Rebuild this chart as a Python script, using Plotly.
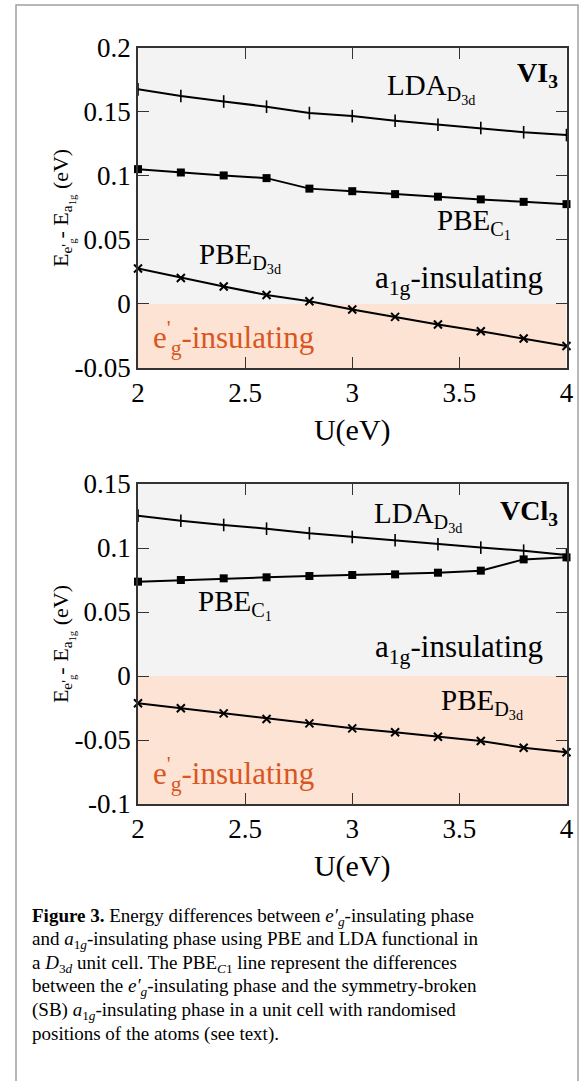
import plotly.graph_objects as go

# ---------------- data ----------------
U = [2.0, 2.2, 2.4, 2.6, 2.8, 3.0, 3.2, 3.4, 3.6, 3.8, 4.0]

vi3_lda_d3d = [0.1675, 0.1623, 0.1580, 0.1540, 0.1490, 0.1466, 0.1430, 0.1399, 0.1373, 0.1340, 0.1318]
vi3_pbe_c1 = [0.1052, 0.1026, 0.1003, 0.0982, 0.0900, 0.0880, 0.0857, 0.0837, 0.0816, 0.0797, 0.0779]
vi3_pbe_d3d = [0.0276, 0.0203, 0.0136, 0.0070, 0.0021, -0.0043, -0.0101, -0.0161, -0.0213, -0.0270, -0.0328]

vcl3_lda_d3d = [0.1253, 0.1213, 0.1180, 0.1151, 0.1115, 0.1086, 0.1060, 0.1029, 0.1003, 0.0979, 0.0945]
vcl3_pbe_c1 = [0.0737, 0.0750, 0.0763, 0.0771, 0.0781, 0.0789, 0.0794, 0.0807, 0.0823, 0.0911, 0.0927]
vcl3_pbe_d3d = [-0.0213, -0.0252, -0.0292, -0.0336, -0.0370, -0.0409, -0.0440, -0.0474, -0.0508, -0.0560, -0.0596]

x_tickvals = [2, 2.5, 3, 3.5, 4]
x_ticktext = ["2", "2.5", "3", "3.5", "4"]
vi3_tickvals = [-0.05, 0, 0.05, 0.1, 0.15, 0.2]
vi3_ticktext = ["-0.05", "0", "0.05", "0.1", "0.15", "0.2"]
vcl3_tickvals = [-0.1, -0.05, 0, 0.05, 0.1, 0.15]
vcl3_ticktext = ["-0.1", "-0.05", "0", "0.05", "0.1", "0.15"]

caption_lines = [
    "<b>Figure 3.</b> Energy differences between <i>e′<sub>g</sub></i>-insulating phase",
    "and <i>a</i><sub>1<i>g</i></sub>-insulating phase using PBE and LDA functional in",
    "a <i>D</i><sub>3<i>d</i></sub> unit cell. The PBE<sub><i>C</i>1</sub> line represent the differences",
    "between the <i>e′<sub>g</sub></i>-insulating phase and the symmetry-broken",
    "(SB) <i>a</i><sub>1<i>g</i></sub>-insulating phase in a unit cell with randomised",
    "positions of the atoms (see text).",
]

# ---------------- geometry ----------------
W, H = 584, 1081
SERIF = "Liberation Serif"
AX = "#333333"
GREY_BG = "#f3f3f3"
PEACH = "#fde3d3"
ORANGE = "#d9561f"

def px_x(p):
    return p / W

def px_y(p):
    return 1 - p / H

xdom = [px_x(138), px_x(566.5)]
ydom1 = [px_y(368), px_y(47.7)]
ydom2 = [px_y(804), px_y(484)]

fig = go.Figure()

def add_series(xa, ya, lda, c1, d3d):
    fig.add_trace(go.Scatter(x=U, y=lda, mode="lines+markers", xaxis=xa, yaxis=ya, cliponaxis=False,
                             line=dict(color="black", width=2),
                             marker=dict(symbol="line-ns", size=9, color="black",
                                         line=dict(width=1.6, color="black")),
                             showlegend=False))
    fig.add_trace(go.Scatter(x=U, y=c1, mode="lines+markers", xaxis=xa, yaxis=ya, cliponaxis=False,
                             line=dict(color="black", width=2),
                             marker=dict(symbol="square", size=8, color="black"),
                             showlegend=False))
    fig.add_trace(go.Scatter(x=U, y=d3d, mode="lines+markers", xaxis=xa, yaxis=ya, cliponaxis=False,
                             line=dict(color="black", width=2),
                             marker=dict(symbol="x-thin", size=8, color="black",
                                         line=dict(width=2, color="black")),
                             showlegend=False))

add_series("x", "y", vi3_lda_d3d, vi3_pbe_c1, vi3_pbe_d3d)
add_series("x2", "y2", vcl3_lda_d3d, vcl3_pbe_c1, vcl3_pbe_d3d)

tickfont = dict(family=SERIF, size=27, color="black")

def xaxis_cfg(anchor):
    return dict(domain=xdom, anchor=anchor, range=[2, 4], tickvals=x_tickvals, ticktext=x_ticktext,
                ticks="inside", ticklen=11, tickwidth=1.3, tickcolor=AX,
                showline=True, linecolor=AX, linewidth=1.6, mirror="ticks",
                showgrid=False, zeroline=False, tickfont=tickfont, automargin=False,
                ticklabeloverflow="allow",
                title=dict(text="U(eV)", font=dict(family=SERIF, size=30, color="black"), standoff=12))

def yaxis_cfg(anchor, dom, rng, tv, tt):
    return dict(domain=dom, anchor=anchor, range=rng, tickvals=tv, ticktext=tt,
                ticks="inside", ticklen=11, tickwidth=1.3, tickcolor=AX,
                showline=True, linecolor=AX, linewidth=1.6, mirror="ticks",
                showgrid=False, zeroline=False, tickfont=tickfont, automargin=False,
                ticklabeloverflow="allow",
                title=dict(text="E<sub>e'<sub>g</sub></sub>- E<sub>a<sub>1g</sub></sub> (eV)",
                           font=dict(family=SERIF, size=22, color="black"), standoff=0))

fig.update_layout(
    width=W, height=H, margin=dict(l=0, r=0, t=0, b=0),
    paper_bgcolor="white", plot_bgcolor=GREY_BG, template="none",
    xaxis=xaxis_cfg("y"),
    yaxis=yaxis_cfg("x", ydom1, [-0.05, 0.2], vi3_tickvals, vi3_ticktext),
    xaxis2=xaxis_cfg("y2"),
    yaxis2=yaxis_cfg("x2", ydom2, [-0.1, 0.15], vcl3_tickvals, vcl3_ticktext),
)

shapes = [
    dict(type="rect", xref="x", yref="y", x0=2, x1=4, y0=-0.05, y1=0,
         fillcolor=PEACH, line=dict(width=0), layer="below"),
    dict(type="rect", xref="x2", yref="y2", x0=2, x1=4, y0=-0.1, y1=0,
         fillcolor=PEACH, line=dict(width=0), layer="below"),
    dict(type="rect", xref="paper", yref="paper", x0=px_x(16), x1=px_x(578),
         y0=px_y(5), y1=-0.05, line=dict(color="#a0a0a0", width=1.5), fillcolor="rgba(0,0,0,0)"),
]
fig.update_layout(shapes=shapes)

lab = dict(family=SERIF, size=29, color="black")
ins = dict(family=SERIF, size=31, color="black")
org = dict(family=SERIF, size=31, color=ORANGE)
bold = dict(family=SERIF, size=28, color="black")
ann = []

def A(text, x, y, xr, yr, font, xanchor="left"):
    ann.append(dict(text=text, x=x, y=y, xref=xr, yref=yr, xanchor=xanchor, yanchor="middle",
                    showarrow=False, font=font))

# top panel (VI3)
A("<b>VI<sub>3</sub></b>", 3.97, 0.1787, "x", "y", bold, "right")
A("LDA<sub>D<sub>3d</sub></sub>", 3.155, 0.1680, "x", "y", lab)
A("PBE<sub>C<sub>1</sub></sub>", 3.386, 0.0631, "x", "y", lab)
A("a<sub>1g</sub>-insulating", 3.095, 0.0185, "x", "y", ins)
A("PBE<sub>D<sub>3d</sub></sub>", 2.275, 0.0366, "x", "y", lab)
A("e<sup>'</sup><sub>g</sub>-insulating", 2.060, -0.0268, "x", "y", org)

# bottom panel (VCl3)
A("<b>VCl<sub>3</sub></b>", 3.97, 0.128, "x2", "y2", bold, "right")
A("LDA<sub>D<sub>3d</sub></sub>", 3.090, 0.1244, "x2", "y2", lab)
A("PBE<sub>C<sub>1</sub></sub>", 2.270, 0.0555, "x2", "y2", lab)
A("a<sub>1g</sub>-insulating", 3.095, 0.0211, "x2", "y2", ins)
A("PBE<sub>D<sub>3d</sub></sub>", 3.405, -0.0213, "x2", "y2", lab)
A("e<sup>'</sup><sub>g</sub>-insulating", 2.060, -0.0766, "x2", "y2", org)

# caption, one annotation per line
for k, line in enumerate(caption_lines):
    ann.append(dict(text=line, x=px_x(30), y=px_y(917 + 23.4 * k), xref="paper", yref="paper",
                    xanchor="left", yanchor="middle", align="left", showarrow=False,
                    font=dict(family=SERIF, size=19, color="black")))

fig.update_layout(annotations=ann)

fig.write_html("out.html", config={"displayModeBar": False},
               post_script="document.body.style.margin='0px';document.body.style.overflow='hidden';")
